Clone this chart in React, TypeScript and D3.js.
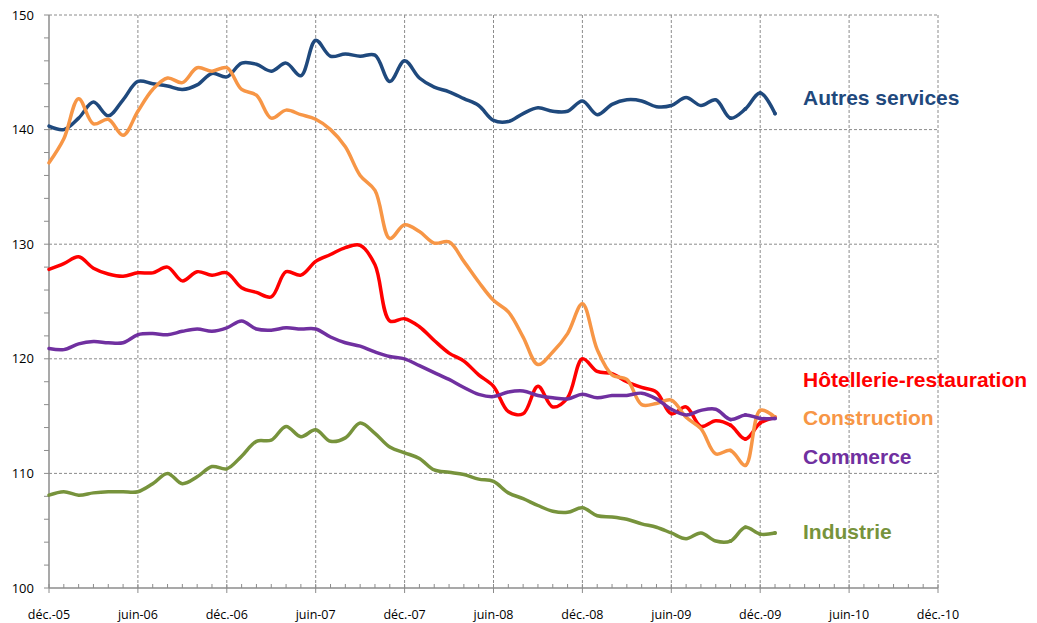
import React from "react";
import * as d3 from "d3";

const autresServices = [140.3, 140.0, 141.0, 142.4, 141.2, 142.6, 144.2, 144.0, 143.8, 143.5, 143.9, 144.9, 144.6, 145.8, 145.7, 145.1, 145.8, 144.7, 147.8, 146.4, 146.6, 146.4, 146.5, 144.2, 146.0, 144.5, 143.7, 143.3, 142.7, 142.1, 140.8, 140.7, 141.4, 141.9, 141.6, 141.6, 142.5, 141.3, 142.2, 142.6, 142.5, 142.0, 142.1, 142.8, 142.1, 142.6, 141.0, 141.8, 143.2, 141.4];
const construction = [137.1, 139.2, 142.7, 140.5, 140.9, 139.5, 141.6, 143.5, 144.5, 144.1, 145.4, 145.1, 145.4, 143.5, 143.0, 141.0, 141.7, 141.3, 140.9, 140.0, 138.5, 136.0, 134.7, 130.5, 131.7, 131.1, 130.1, 130.2, 128.5, 126.7, 125.1, 124.1, 121.9, 119.5, 120.6, 122.2, 124.8, 120.8, 118.6, 118.2, 116.0, 116.1, 116.4, 114.9, 113.9, 111.7, 112.0, 110.7, 115.5, 114.9];
const hotellerie = [127.8, 128.3, 128.9, 127.9, 127.4, 127.2, 127.5, 127.5, 128.0, 126.8, 127.6, 127.3, 127.5, 126.2, 125.8, 125.4, 127.6, 127.3, 128.5, 129.1, 129.7, 129.9, 128.2, 123.3, 123.5, 122.8, 121.6, 120.5, 119.8, 118.6, 117.6, 115.4, 115.2, 117.6, 115.8, 116.6, 120.0, 118.9, 118.7, 118.0, 117.5, 117.1, 115.2, 115.8, 114.1, 114.6, 114.2, 113.0, 114.4, 114.9];
const commerce = [120.9, 120.8, 121.3, 121.5, 121.4, 121.4, 122.1, 122.2, 122.1, 122.4, 122.6, 122.4, 122.7, 123.3, 122.6, 122.5, 122.7, 122.6, 122.6, 121.9, 121.4, 121.1, 120.6, 120.2, 120.0, 119.4, 118.8, 118.2, 117.5, 116.9, 116.7, 117.1, 117.2, 116.8, 116.6, 116.5, 116.9, 116.6, 116.8, 116.8, 117.0, 116.5, 115.6, 115.1, 115.5, 115.6, 114.7, 115.1, 114.8, 114.8];
const industrie = [108.1, 108.4, 108.1, 108.3, 108.4, 108.4, 108.4, 109.1, 110.0, 109.1, 109.7, 110.6, 110.4, 111.5, 112.8, 112.9, 114.1, 113.2, 113.8, 112.8, 113.1, 114.4, 113.5, 112.3, 111.8, 111.3, 110.3, 110.1, 109.9, 109.5, 109.3, 108.3, 107.8, 107.2, 106.7, 106.6, 107.0, 106.3, 106.2, 106.0, 105.6, 105.3, 104.8, 104.3, 104.8, 104.1, 104.1, 105.3, 104.7, 104.8];

const xTickLabels = ["déc.-05", "juin-06", "déc.-06", "juin-07", "déc.-07", "juin-08", "déc.-08", "juin-09", "déc.-09", "juin-10", "déc.-10"];
const yTicks = [100, 110, 120, 130, 140, 150];

const seriesNames = ["Autres services", "Hôtellerie-restauration", "Construction", "Commerce", "Industrie"];
const seriesData = [autresServices, hotellerie, construction, commerce, industrie];
const seriesColors = ["#1F497D", "#FF0000", "#F79646", "#7030A0", "#77933C"];
const labelValues = [142.76, 118.15, 114.83, 111.43, 104.89];

export default function App() {
  const W = 1037, H = 623;
  const x = d3.scaleLinear().domain([0, 60]).range([49, 938]);
  const y = d3.scaleLinear().domain([100, 150]).range([588, 15]);
  const line = d3
    .line<number>()
    .x((_, i) => x(i))
    .y((d) => y(d))
    .curve(d3.curveCatmullRom.alpha(0.5));
  const grid = "#8c8c8c";
  const months = d3.range(0, 61);
  const minorY = d3.range(100, 151, 2);
  const font = "'Open Sans', 'Liberation Sans', Arial, sans-serif";
  return (
    <svg width={W} height={H} style={{ position: "absolute", left: 0, top: 0, background: "#fff" }}>
      {yTicks.filter((t) => t > 100).map((t) => (
        <line key={"hg" + t} x1={49} x2={938} y1={y(t)} y2={y(t)} stroke={grid} strokeWidth={1} strokeDasharray="3,2" />
      ))}
      {xTickLabels.slice(1).map((_, i) => (
        <line key={"vg" + i} x1={x((i + 1) * 6)} x2={x((i + 1) * 6)} y1={15} y2={588} stroke={grid} strokeWidth={1} strokeDasharray="3,2" />
      ))}
      <line x1={49} x2={49} y1={15} y2={588} stroke={grid} strokeWidth={1.5} />
      <line x1={49} x2={938} y1={588} y2={588} stroke={grid} strokeWidth={1.5} />
      {minorY.map((t) => (
        <line key={"yt" + t} x1={44} x2={49} y1={y(t)} y2={y(t)} stroke={grid} strokeWidth={1} />
      ))}
      {months.map((m) =>
        m % 6 === 0 ? (
          <line key={"xt" + m} x1={x(m)} x2={x(m)} y1={584} y2={593} stroke={grid} strokeWidth={1} />
        ) : (
          <line key={"xt" + m} x1={x(m)} x2={x(m)} y1={584} y2={588} stroke={grid} strokeWidth={1} />
        )
      )}
      {yTicks.map((t) => (
        <text key={"yl" + t} x={34} y={y(t)} dy="0.35em" textAnchor="end" fontFamily={font} fontSize={13} fill="#000">
          {t}
        </text>
      ))}
      {xTickLabels.map((l, i) => (
        <text key={"xl" + i} x={x(i * 6)} y={619} textAnchor="middle" fontFamily={font} fontSize={12.5} fill="#000">
          {l}
        </text>
      ))}
      {seriesData.map((d, si) => (
        <g key={"s" + si}>
          <path d={line(d) || ""} fill="none" stroke={seriesColors[si]} strokeWidth={3.5} strokeLinejoin="round" strokeLinecap="round" />
          {d.slice(-4).map((v, j) => (
            <circle key={j} cx={x(d.length - 4 + j)} cy={y(v)} r={1.9} fill={seriesColors[si]} />
          ))}
        </g>
      ))}
      {seriesNames.map((n, i) => (
        <text key={"lab" + i} x={803} y={y(labelValues[i])} dy="0.35em" fontFamily="'Liberation Sans', Arial, sans-serif" fontWeight="bold" fontSize={21} fill={seriesColors[i]}>
          {n}
        </text>
      ))}
    </svg>
  );
}
